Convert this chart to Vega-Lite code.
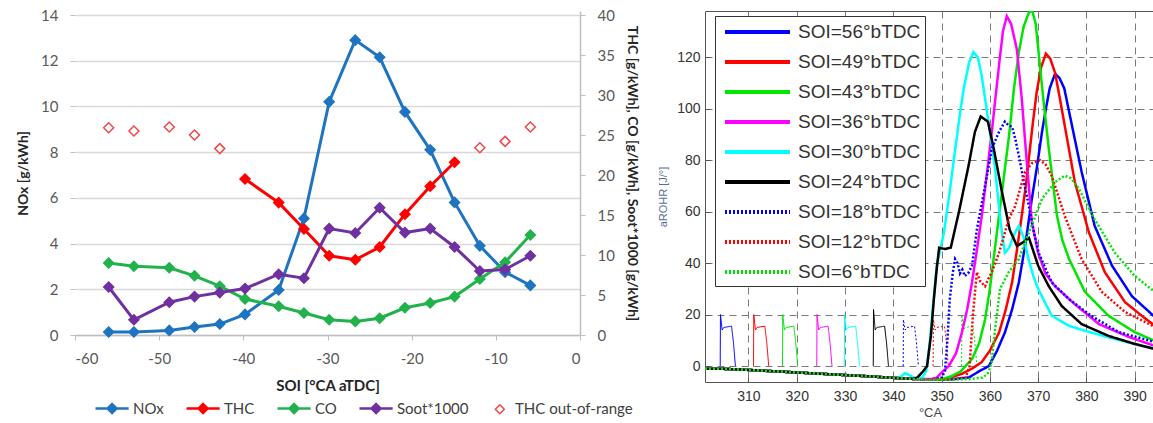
{
  "$schema": "https://vega.github.io/schema/vega-lite/v6.json",
  "padding": {"left": 16, "top": 8, "right": 0, "bottom": 0},
  "background": "white",
  "spacing": 125,
  "bounds": "flush",
  "config": {"view": {"stroke": "#555"}, "font": "Lato"},
  "resolve": {
    "scale": {"color": "independent", "stroke": "independent", "fill": "independent", "strokeDash": "independent"},
    "legend": {"color": "independent", "stroke": "independent", "fill": "independent", "strokeDash": "independent"}
  },
  "datasets": {
    "emis": [
      {"soi": -56, "series": "NOx", "value": 0.13}, {"soi": -53, "series": "NOx", "value": 0.13}, {"soi": -48.8, "series": "NOx", "value": 0.2}, {"soi": -45.8, "series": "NOx", "value": 0.35}, {"soi": -42.8, "series": "NOx", "value": 0.48}, {"soi": -39.8, "series": "NOx", "value": 0.9}, {"soi": -35.8, "series": "NOx", "value": 1.97}, {"soi": -32.8, "series": "NOx", "value": 5.1}, {"soi": -29.8, "series": "NOx", "value": 10.2}, {"soi": -26.7, "series": "NOx", "value": 12.9}, {"soi": -23.8, "series": "NOx", "value": 12.15}, {"soi": -20.8, "series": "NOx", "value": 9.76}, {"soi": -17.8, "series": "NOx", "value": 8.1}, {"soi": -14.9, "series": "NOx", "value": 5.8}, {"soi": -11.9, "series": "NOx", "value": 3.9}, {"soi": -8.9, "series": "NOx", "value": 2.75}, {"soi": -5.9, "series": "NOx", "value": 2.17},
      {"soi": -39.8, "series": "THC", "value": 19.5}, {"soi": -35.8, "series": "THC", "value": 16.55}, {"soi": -32.8, "series": "THC", "value": 13.25}, {"soi": -29.8, "series": "THC", "value": 9.9}, {"soi": -26.7, "series": "THC", "value": 9.4}, {"soi": -23.8, "series": "THC", "value": 11.0}, {"soi": -20.8, "series": "THC", "value": 15.1}, {"soi": -17.8, "series": "THC", "value": 18.6}, {"soi": -14.9, "series": "THC", "value": 21.6},
      {"soi": -56, "series": "CO", "value": 9.0}, {"soi": -53, "series": "CO", "value": 8.6}, {"soi": -48.8, "series": "CO", "value": 8.4}, {"soi": -45.8, "series": "CO", "value": 7.4}, {"soi": -42.8, "series": "CO", "value": 6.1}, {"soi": -39.8, "series": "CO", "value": 4.5}, {"soi": -35.8, "series": "CO", "value": 3.6}, {"soi": -32.8, "series": "CO", "value": 2.75}, {"soi": -29.8, "series": "CO", "value": 1.9}, {"soi": -26.7, "series": "CO", "value": 1.7}, {"soi": -23.8, "series": "CO", "value": 2.1}, {"soi": -20.8, "series": "CO", "value": 3.4}, {"soi": -17.8, "series": "CO", "value": 4.0}, {"soi": -14.9, "series": "CO", "value": 4.8}, {"soi": -11.9, "series": "CO", "value": 7.0}, {"soi": -8.9, "series": "CO", "value": 9.1}, {"soi": -5.9, "series": "CO", "value": 12.5},
      {"soi": -56, "series": "Soot*1000", "value": 6.0}, {"soi": -53, "series": "Soot*1000", "value": 1.9}, {"soi": -48.8, "series": "Soot*1000", "value": 4.1}, {"soi": -45.8, "series": "Soot*1000", "value": 4.8}, {"soi": -42.8, "series": "Soot*1000", "value": 5.3}, {"soi": -39.8, "series": "Soot*1000", "value": 5.8}, {"soi": -35.8, "series": "Soot*1000", "value": 7.6}, {"soi": -32.8, "series": "Soot*1000", "value": 7.1}, {"soi": -29.8, "series": "Soot*1000", "value": 13.3}, {"soi": -26.7, "series": "Soot*1000", "value": 12.75}, {"soi": -23.8, "series": "Soot*1000", "value": 15.9}, {"soi": -20.8, "series": "Soot*1000", "value": 12.8}, {"soi": -17.8, "series": "Soot*1000", "value": 13.3}, {"soi": -14.9, "series": "Soot*1000", "value": 11.0}, {"soi": -11.9, "series": "Soot*1000", "value": 8.0}, {"soi": -8.9, "series": "Soot*1000", "value": 8.2}, {"soi": -5.9, "series": "Soot*1000", "value": 9.9},
      {"soi": -56, "series": "THC out-of-range", "value": 25.9}, {"soi": -53, "series": "THC out-of-range", "value": 25.5}, {"soi": -48.8, "series": "THC out-of-range", "value": 26.0}, {"soi": -45.8, "series": "THC out-of-range", "value": 25.0}, {"soi": -42.8, "series": "THC out-of-range", "value": 23.3}, {"soi": -11.9, "series": "THC out-of-range", "value": 23.4}, {"soi": -8.9, "series": "THC out-of-range", "value": 24.2}, {"soi": -5.9, "series": "THC out-of-range", "value": 26.0}
    ],
    "rohr": [
      {"soi":56,"kind":"hr","ca":301,"v":-1.0},{"soi":56,"kind":"hr","ca":305,"v":-1.1},{"soi":56,"kind":"hr","ca":310,"v":-1.5},{"soi":56,"kind":"hr","ca":315,"v":-2.0},{"soi":56,"kind":"hr","ca":320,"v":-2.5},{"soi":56,"kind":"hr","ca":325,"v":-3.0},{"soi":56,"kind":"hr","ca":330,"v":-3.5},{"soi":56,"kind":"hr","ca":335,"v":-4.0},{"soi":56,"kind":"hr","ca":340,"v":-4.6},{"soi":56,"kind":"hr","ca":344,"v":-5.0},{"soi":56,"kind":"hr","ca":348,"v":-5.2},{"soi":56,"kind":"hr","ca":352,"v":-5.2},{"soi":56,"kind":"hr","ca":355.7,"v":-4.4},{"soi":56,"kind":"hr","ca":357.8,"v":-2},{"soi":56,"kind":"hr","ca":359.8,"v":0},{"soi":56,"kind":"hr","ca":361.5,"v":6},{"soi":56,"kind":"hr","ca":363.1,"v":13},{"soi":56,"kind":"hr","ca":364.6,"v":22},{"soi":56,"kind":"hr","ca":366,"v":32.5},{"soi":56,"kind":"hr","ca":367.4,"v":48},{"soi":56,"kind":"hr","ca":368.7,"v":65},{"soi":56,"kind":"hr","ca":369.8,"v":78},{"soi":56,"kind":"hr","ca":370.8,"v":91},{"soi":56,"kind":"hr","ca":371.6,"v":100},{"soi":56,"kind":"hr","ca":372.4,"v":108},{"soi":56,"kind":"hr","ca":373.5,"v":113.6},{"soi":56,"kind":"hr","ca":374.4,"v":112},{"soi":56,"kind":"hr","ca":375.4,"v":108},{"soi":56,"kind":"hr","ca":377,"v":93.5},{"soi":56,"kind":"hr","ca":379,"v":75.5},{"soi":56,"kind":"hr","ca":381.7,"v":54.5},{"soi":56,"kind":"hr","ca":385.3,"v":39},{"soi":56,"kind":"hr","ca":389.4,"v":27.2},{"soi":56,"kind":"hr","ca":394.2,"v":19},
      {"soi":49,"kind":"hr","ca":301,"v":-1.0},{"soi":49,"kind":"hr","ca":305,"v":-1.1},{"soi":49,"kind":"hr","ca":310,"v":-1.5},{"soi":49,"kind":"hr","ca":315,"v":-2.0},{"soi":49,"kind":"hr","ca":320,"v":-2.5},{"soi":49,"kind":"hr","ca":325,"v":-3.0},{"soi":49,"kind":"hr","ca":330,"v":-3.5},{"soi":49,"kind":"hr","ca":335,"v":-4.0},{"soi":49,"kind":"hr","ca":340,"v":-4.6},{"soi":49,"kind":"hr","ca":344,"v":-5.0},{"soi":49,"kind":"hr","ca":348,"v":-5.2},{"soi":49,"kind":"hr","ca":351,"v":-5},{"soi":49,"kind":"hr","ca":354.2,"v":-3},{"soi":49,"kind":"hr","ca":356.3,"v":-1},{"soi":49,"kind":"hr","ca":358.3,"v":1.5},{"soi":49,"kind":"hr","ca":360,"v":6},{"soi":49,"kind":"hr","ca":361.9,"v":13},{"soi":49,"kind":"hr","ca":363.3,"v":22},{"soi":49,"kind":"hr","ca":364.6,"v":32.5},{"soi":49,"kind":"hr","ca":365.6,"v":45},{"soi":49,"kind":"hr","ca":366.6,"v":58.4},{"soi":49,"kind":"hr","ca":367.5,"v":71},{"soi":49,"kind":"hr","ca":368.3,"v":84.5},{"soi":49,"kind":"hr","ca":369,"v":96},{"soi":49,"kind":"hr","ca":369.7,"v":106.5},{"soi":49,"kind":"hr","ca":370.6,"v":116},{"soi":49,"kind":"hr","ca":371.6,"v":121.4},{"soi":49,"kind":"hr","ca":372.5,"v":119.5},{"soi":49,"kind":"hr","ca":373.5,"v":114},{"soi":49,"kind":"hr","ca":374.5,"v":104},{"soi":49,"kind":"hr","ca":375.5,"v":93.5},{"soi":49,"kind":"hr","ca":377.6,"v":71.5},{"soi":49,"kind":"hr","ca":380.5,"v":52},{"soi":49,"kind":"hr","ca":383.8,"v":36.5},{"soi":49,"kind":"hr","ca":388,"v":24.8},{"soi":49,"kind":"hr","ca":391.5,"v":19.5},{"soi":49,"kind":"hr","ca":394.2,"v":15.6},
      {"soi":43,"kind":"hr","ca":301,"v":-1.0},{"soi":43,"kind":"hr","ca":305,"v":-1.1},{"soi":43,"kind":"hr","ca":310,"v":-1.5},{"soi":43,"kind":"hr","ca":315,"v":-2.0},{"soi":43,"kind":"hr","ca":320,"v":-2.5},{"soi":43,"kind":"hr","ca":325,"v":-3.0},{"soi":43,"kind":"hr","ca":330,"v":-3.5},{"soi":43,"kind":"hr","ca":335,"v":-4.0},{"soi":43,"kind":"hr","ca":340,"v":-4.6},{"soi":43,"kind":"hr","ca":344,"v":-5.0},{"soi":43,"kind":"hr","ca":348,"v":-5.2},{"soi":43,"kind":"hr","ca":350,"v":-5},{"soi":43,"kind":"hr","ca":352,"v":-4},{"soi":43,"kind":"hr","ca":354,"v":-2},{"soi":43,"kind":"hr","ca":356.3,"v":2.7},{"soi":43,"kind":"hr","ca":357.8,"v":9},{"soi":43,"kind":"hr","ca":359,"v":18},{"soi":43,"kind":"hr","ca":360,"v":30},{"soi":43,"kind":"hr","ca":361,"v":45},{"soi":43,"kind":"hr","ca":362,"v":60},{"soi":43,"kind":"hr","ca":363,"v":75},{"soi":43,"kind":"hr","ca":364,"v":90},{"soi":43,"kind":"hr","ca":365,"v":108},{"soi":43,"kind":"hr","ca":366,"v":122},{"soi":43,"kind":"hr","ca":367,"v":132},{"soi":43,"kind":"hr","ca":368,"v":137},{"soi":43,"kind":"hr","ca":368.7,"v":138.5},{"soi":43,"kind":"hr","ca":369.5,"v":133},{"soi":43,"kind":"hr","ca":370.3,"v":118},{"soi":43,"kind":"hr","ca":371,"v":105},{"soi":43,"kind":"hr","ca":372.2,"v":84.5},{"soi":43,"kind":"hr","ca":373.9,"v":58.4},{"soi":43,"kind":"hr","ca":375,"v":49},{"soi":43,"kind":"hr","ca":376.4,"v":41.6},{"soi":43,"kind":"hr","ca":379.7,"v":28.8},{"soi":43,"kind":"hr","ca":384.6,"v":19.5},{"soi":43,"kind":"hr","ca":390,"v":13.2},{"soi":43,"kind":"hr","ca":394.2,"v":9.7},
      {"soi":36,"kind":"hr","ca":301,"v":-1.0},{"soi":36,"kind":"hr","ca":305,"v":-1.1},{"soi":36,"kind":"hr","ca":310,"v":-1.5},{"soi":36,"kind":"hr","ca":315,"v":-2.0},{"soi":36,"kind":"hr","ca":320,"v":-2.5},{"soi":36,"kind":"hr","ca":325,"v":-3.0},{"soi":36,"kind":"hr","ca":330,"v":-3.5},{"soi":36,"kind":"hr","ca":335,"v":-4.0},{"soi":36,"kind":"hr","ca":340,"v":-4.6},{"soi":36,"kind":"hr","ca":344,"v":-5.0},{"soi":36,"kind":"hr","ca":348,"v":-5},{"soi":36,"kind":"hr","ca":349,"v":-4.5},{"soi":36,"kind":"hr","ca":350.3,"v":-2},{"soi":36,"kind":"hr","ca":351.5,"v":0},{"soi":36,"kind":"hr","ca":353,"v":5},{"soi":36,"kind":"hr","ca":354.2,"v":13},{"soi":36,"kind":"hr","ca":355.3,"v":22},{"soi":36,"kind":"hr","ca":356.3,"v":32.5},{"soi":36,"kind":"hr","ca":357.3,"v":45},{"soi":36,"kind":"hr","ca":358.3,"v":58},{"soi":36,"kind":"hr","ca":359.4,"v":75},{"soi":36,"kind":"hr","ca":360.4,"v":91},{"soi":36,"kind":"hr","ca":361.2,"v":105},{"soi":36,"kind":"hr","ca":361.9,"v":117},{"soi":36,"kind":"hr","ca":362.7,"v":130},{"soi":36,"kind":"hr","ca":363.5,"v":136},{"soi":36,"kind":"hr","ca":364.4,"v":133},{"soi":36,"kind":"hr","ca":365.6,"v":123},{"soi":36,"kind":"hr","ca":366.6,"v":104},{"soi":36,"kind":"hr","ca":367.7,"v":78},{"soi":36,"kind":"hr","ca":368.7,"v":56},{"soi":36,"kind":"hr","ca":370,"v":44},{"soi":36,"kind":"hr","ca":371.5,"v":36},{"soi":36,"kind":"hr","ca":373.5,"v":31},{"soi":36,"kind":"hr","ca":377.6,"v":24},{"soi":36,"kind":"hr","ca":382.6,"v":16.3},{"soi":36,"kind":"hr","ca":388.8,"v":11.3},{"soi":36,"kind":"hr","ca":394.2,"v":7.8},
      {"soi":30,"kind":"hr","ca":301,"v":-1.0},{"soi":30,"kind":"hr","ca":305,"v":-1.1},{"soi":30,"kind":"hr","ca":310,"v":-1.5},{"soi":30,"kind":"hr","ca":315,"v":-2.0},{"soi":30,"kind":"hr","ca":320,"v":-2.5},{"soi":30,"kind":"hr","ca":325,"v":-3.0},{"soi":30,"kind":"hr","ca":330,"v":-3.5},{"soi":30,"kind":"hr","ca":335,"v":-4.0},{"soi":30,"kind":"hr","ca":340,"v":-4.6},{"soi":30,"kind":"hr","ca":341.5,"v":-4.2},{"soi":30,"kind":"hr","ca":342.4,"v":-2.8},{"soi":30,"kind":"hr","ca":343.3,"v":-3.5},{"soi":30,"kind":"hr","ca":344.5,"v":-4.8},{"soi":30,"kind":"hr","ca":346,"v":-4.5},{"soi":30,"kind":"hr","ca":346.8,"v":-2},{"soi":30,"kind":"hr","ca":347.5,"v":8},{"soi":30,"kind":"hr","ca":348.3,"v":25},{"soi":30,"kind":"hr","ca":349,"v":39},{"soi":30,"kind":"hr","ca":350.5,"v":52},{"soi":30,"kind":"hr","ca":351.7,"v":68},{"soi":30,"kind":"hr","ca":352.8,"v":84},{"soi":30,"kind":"hr","ca":353.8,"v":98},{"soi":30,"kind":"hr","ca":354.6,"v":108},{"soi":30,"kind":"hr","ca":355.7,"v":118},{"soi":30,"kind":"hr","ca":356.6,"v":122},{"soi":30,"kind":"hr","ca":357.5,"v":120},{"soi":30,"kind":"hr","ca":358.3,"v":113},{"soi":30,"kind":"hr","ca":359,"v":104},{"soi":30,"kind":"hr","ca":360,"v":91},{"soi":30,"kind":"hr","ca":361,"v":78},{"soi":30,"kind":"hr","ca":362,"v":60},{"soi":30,"kind":"hr","ca":362.5,"v":52},{"soi":30,"kind":"hr","ca":363.1,"v":44},{"soi":30,"kind":"hr","ca":364,"v":46},{"soi":30,"kind":"hr","ca":365,"v":51},{"soi":30,"kind":"hr","ca":366,"v":54.5},{"soi":30,"kind":"hr","ca":367,"v":50},{"soi":30,"kind":"hr","ca":368,"v":41.6},{"soi":30,"kind":"hr","ca":369,"v":35},{"soi":30,"kind":"hr","ca":370,"v":30},{"soi":30,"kind":"hr","ca":372.8,"v":19.6},{"soi":30,"kind":"hr","ca":376.4,"v":15.6},{"soi":30,"kind":"hr","ca":381,"v":13},{"soi":30,"kind":"hr","ca":385.9,"v":10.5},{"soi":30,"kind":"hr","ca":391.5,"v":7.8},{"soi":30,"kind":"hr","ca":394.2,"v":7},
      {"soi":24,"kind":"hr","ca":301,"v":-1.0},{"soi":24,"kind":"hr","ca":305,"v":-1.1},{"soi":24,"kind":"hr","ca":310,"v":-1.5},{"soi":24,"kind":"hr","ca":315,"v":-2.0},{"soi":24,"kind":"hr","ca":320,"v":-2.5},{"soi":24,"kind":"hr","ca":325,"v":-3.0},{"soi":24,"kind":"hr","ca":330,"v":-3.5},{"soi":24,"kind":"hr","ca":335,"v":-4.0},{"soi":24,"kind":"hr","ca":340,"v":-4.6},{"soi":24,"kind":"hr","ca":344,"v":-5.0},{"soi":24,"kind":"hr","ca":345,"v":-4.4},{"soi":24,"kind":"hr","ca":346.2,"v":-2},{"soi":24,"kind":"hr","ca":347,"v":0},{"soi":24,"kind":"hr","ca":347.8,"v":12},{"soi":24,"kind":"hr","ca":348.4,"v":26},{"soi":24,"kind":"hr","ca":349,"v":38},{"soi":24,"kind":"hr","ca":349.5,"v":46},{"soi":24,"kind":"hr","ca":350.7,"v":45.5},{"soi":24,"kind":"hr","ca":351.9,"v":46},{"soi":24,"kind":"hr","ca":353.6,"v":60},{"soi":24,"kind":"hr","ca":355.6,"v":78},{"soi":24,"kind":"hr","ca":356.9,"v":91},{"soi":24,"kind":"hr","ca":358.1,"v":97},{"soi":24,"kind":"hr","ca":359.6,"v":95},{"soi":24,"kind":"hr","ca":360.8,"v":84.5},{"soi":24,"kind":"hr","ca":362.5,"v":67.7},{"soi":24,"kind":"hr","ca":364.1,"v":53},{"soi":24,"kind":"hr","ca":365.6,"v":46.7},{"soi":24,"kind":"hr","ca":366.8,"v":48},{"soi":24,"kind":"hr","ca":368.1,"v":49.8},{"soi":24,"kind":"hr","ca":370,"v":39},{"soi":24,"kind":"hr","ca":372.2,"v":31},{"soi":24,"kind":"hr","ca":374.9,"v":23.3},{"soi":24,"kind":"hr","ca":379,"v":16.3},{"soi":24,"kind":"hr","ca":384.6,"v":11.7},{"soi":24,"kind":"hr","ca":390,"v":8.6},{"soi":24,"kind":"hr","ca":394.2,"v":6.6},
      {"soi":18,"kind":"hr","ca":301,"v":-1.0},{"soi":18,"kind":"hr","ca":305,"v":-1.1},{"soi":18,"kind":"hr","ca":310,"v":-1.5},{"soi":18,"kind":"hr","ca":315,"v":-2.0},{"soi":18,"kind":"hr","ca":320,"v":-2.5},{"soi":18,"kind":"hr","ca":325,"v":-3.0},{"soi":18,"kind":"hr","ca":330,"v":-3.5},{"soi":18,"kind":"hr","ca":335,"v":-4.0},{"soi":18,"kind":"hr","ca":340,"v":-4.6},{"soi":18,"kind":"hr","ca":344,"v":-5.0},{"soi":18,"kind":"hr","ca":348,"v":-5.2},{"soi":18,"kind":"hr","ca":350,"v":-4.5},{"soi":18,"kind":"hr","ca":350.7,"v":-2},{"soi":18,"kind":"hr","ca":351.2,"v":10},{"soi":18,"kind":"hr","ca":351.7,"v":26},{"soi":18,"kind":"hr","ca":352.3,"v":36},{"soi":18,"kind":"hr","ca":352.8,"v":41.6},{"soi":18,"kind":"hr","ca":353.3,"v":40},{"soi":18,"kind":"hr","ca":353.8,"v":36},{"soi":18,"kind":"hr","ca":354.3,"v":37.5},{"soi":18,"kind":"hr","ca":354.8,"v":35},{"soi":18,"kind":"hr","ca":355.5,"v":36},{"soi":18,"kind":"hr","ca":356.3,"v":39},{"soi":18,"kind":"hr","ca":357.3,"v":53},{"soi":18,"kind":"hr","ca":358.2,"v":62},{"soi":18,"kind":"hr","ca":359,"v":70},{"soi":18,"kind":"hr","ca":360.4,"v":84.5},{"soi":18,"kind":"hr","ca":361.9,"v":91},{"soi":18,"kind":"hr","ca":363.1,"v":95},{"soi":18,"kind":"hr","ca":363.9,"v":93.5},{"soi":18,"kind":"hr","ca":364.6,"v":93},{"soi":18,"kind":"hr","ca":365.3,"v":88},{"soi":18,"kind":"hr","ca":366,"v":81.7},{"soi":18,"kind":"hr","ca":367,"v":72},{"soi":18,"kind":"hr","ca":368.1,"v":62},{"soi":18,"kind":"hr","ca":369,"v":53},{"soi":18,"kind":"hr","ca":370.1,"v":44},{"soi":18,"kind":"hr","ca":372.8,"v":32.5},{"soi":18,"kind":"hr","ca":376.4,"v":26},{"soi":18,"kind":"hr","ca":381,"v":19.5},{"soi":18,"kind":"hr","ca":386.7,"v":13.2},{"soi":18,"kind":"hr","ca":394.2,"v":9.3},
      {"soi":12,"kind":"hr","ca":301,"v":-1.0},{"soi":12,"kind":"hr","ca":305,"v":-1.1},{"soi":12,"kind":"hr","ca":310,"v":-1.5},{"soi":12,"kind":"hr","ca":315,"v":-2.0},{"soi":12,"kind":"hr","ca":320,"v":-2.5},{"soi":12,"kind":"hr","ca":325,"v":-3.0},{"soi":12,"kind":"hr","ca":330,"v":-3.5},{"soi":12,"kind":"hr","ca":335,"v":-4.0},{"soi":12,"kind":"hr","ca":340,"v":-4.6},{"soi":12,"kind":"hr","ca":344,"v":-5.0},{"soi":12,"kind":"hr","ca":348,"v":-5.2},{"soi":12,"kind":"hr","ca":352,"v":-5.2},{"soi":12,"kind":"hr","ca":355,"v":-4.5},{"soi":12,"kind":"hr","ca":355.8,"v":0},{"soi":12,"kind":"hr","ca":356.5,"v":20},{"soi":12,"kind":"hr","ca":357.3,"v":36.5},{"soi":12,"kind":"hr","ca":358,"v":33},{"soi":12,"kind":"hr","ca":359,"v":31},{"soi":12,"kind":"hr","ca":359.7,"v":34},{"soi":12,"kind":"hr","ca":360.4,"v":36.5},{"soi":12,"kind":"hr","ca":361.9,"v":44},{"soi":12,"kind":"hr","ca":363.9,"v":57},{"soi":12,"kind":"hr","ca":365.2,"v":62},{"soi":12,"kind":"hr","ca":367.3,"v":75.5},{"soi":12,"kind":"hr","ca":368.8,"v":79},{"soi":12,"kind":"hr","ca":370.4,"v":80},{"soi":12,"kind":"hr","ca":371.5,"v":78.5},{"soi":12,"kind":"hr","ca":372.8,"v":74},{"soi":12,"kind":"hr","ca":375.5,"v":58.4},{"soi":12,"kind":"hr","ca":379,"v":41.6},{"soi":12,"kind":"hr","ca":383.2,"v":28.8},{"soi":12,"kind":"hr","ca":388,"v":21},{"soi":12,"kind":"hr","ca":394.2,"v":15.2},
      {"soi":6,"kind":"hr","ca":301,"v":-1.0},{"soi":6,"kind":"hr","ca":305,"v":-1.1},{"soi":6,"kind":"hr","ca":310,"v":-1.5},{"soi":6,"kind":"hr","ca":315,"v":-2.0},{"soi":6,"kind":"hr","ca":320,"v":-2.5},{"soi":6,"kind":"hr","ca":325,"v":-3.0},{"soi":6,"kind":"hr","ca":330,"v":-3.5},{"soi":6,"kind":"hr","ca":335,"v":-4.0},{"soi":6,"kind":"hr","ca":340,"v":-4.6},{"soi":6,"kind":"hr","ca":344,"v":-5.0},{"soi":6,"kind":"hr","ca":348,"v":-5.3},{"soi":6,"kind":"hr","ca":352,"v":-5.3},{"soi":6,"kind":"hr","ca":356,"v":-5},{"soi":6,"kind":"hr","ca":358.5,"v":-4.5},{"soi":6,"kind":"hr","ca":359.5,"v":-3},{"soi":6,"kind":"hr","ca":360,"v":-1},{"soi":6,"kind":"hr","ca":360.4,"v":2},{"soi":6,"kind":"hr","ca":361,"v":13},{"soi":6,"kind":"hr","ca":362.1,"v":30},{"soi":6,"kind":"hr","ca":363.9,"v":36.5},{"soi":6,"kind":"hr","ca":366,"v":41.6},{"soi":6,"kind":"hr","ca":368.1,"v":52},{"soi":6,"kind":"hr","ca":370.8,"v":65},{"soi":6,"kind":"hr","ca":373.5,"v":71.5},{"soi":6,"kind":"hr","ca":375.5,"v":74},{"soi":6,"kind":"hr","ca":376.8,"v":73},{"soi":6,"kind":"hr","ca":378.4,"v":69},{"soi":6,"kind":"hr","ca":381.7,"v":57},{"soi":6,"kind":"hr","ca":385.9,"v":44},{"soi":6,"kind":"hr","ca":390,"v":35},{"soi":6,"kind":"hr","ca":394.2,"v":28.8},
      {"soi":56,"kind":"inj","ca":304.15,"v":0},{"soi":56,"kind":"inj","ca":304.2,"v":20},{"soi":56,"kind":"inj","ca":304.55,"v":14},{"soi":56,"kind":"inj","ca":304.9,"v":15},{"soi":56,"kind":"inj","ca":306.5,"v":15.5},{"soi":56,"kind":"inj","ca":306.9,"v":9},{"soi":56,"kind":"inj","ca":307.3,"v":0},
      {"soi":49,"kind":"inj","ca":311.05,"v":0},{"soi":49,"kind":"inj","ca":311.1,"v":20},{"soi":49,"kind":"inj","ca":311.45,"v":14},{"soi":49,"kind":"inj","ca":311.8,"v":15},{"soi":49,"kind":"inj","ca":313.4,"v":15.5},{"soi":49,"kind":"inj","ca":313.8,"v":9},{"soi":49,"kind":"inj","ca":314.2,"v":0},
      {"soi":43,"kind":"inj","ca":317.05,"v":0},{"soi":43,"kind":"inj","ca":317.1,"v":20},{"soi":43,"kind":"inj","ca":317.45,"v":14},{"soi":43,"kind":"inj","ca":317.8,"v":15},{"soi":43,"kind":"inj","ca":319.4,"v":15.5},{"soi":43,"kind":"inj","ca":319.8,"v":9},{"soi":43,"kind":"inj","ca":320.2,"v":0},
      {"soi":36,"kind":"inj","ca":324.15,"v":0},{"soi":36,"kind":"inj","ca":324.2,"v":20},{"soi":36,"kind":"inj","ca":324.55,"v":14},{"soi":36,"kind":"inj","ca":324.9,"v":15},{"soi":36,"kind":"inj","ca":326.5,"v":15.5},{"soi":36,"kind":"inj","ca":326.9,"v":9},{"soi":36,"kind":"inj","ca":327.3,"v":0},
      {"soi":30,"kind":"inj","ca":329.85,"v":0},{"soi":30,"kind":"inj","ca":329.9,"v":20},{"soi":30,"kind":"inj","ca":330.25,"v":14},{"soi":30,"kind":"inj","ca":330.6,"v":15},{"soi":30,"kind":"inj","ca":332.2,"v":15.5},{"soi":30,"kind":"inj","ca":332.6,"v":9},{"soi":30,"kind":"inj","ca":333,"v":0},
      {"soi":24,"kind":"inj","ca":335.85,"v":0},{"soi":24,"kind":"inj","ca":335.9,"v":22},{"soi":24,"kind":"inj","ca":336.25,"v":14},{"soi":24,"kind":"inj","ca":336.6,"v":15},{"soi":24,"kind":"inj","ca":338.2,"v":15.5},{"soi":24,"kind":"inj","ca":338.6,"v":9},{"soi":24,"kind":"inj","ca":339,"v":0},
      {"soi":18,"kind":"inj","ca":342.05,"v":0},{"soi":18,"kind":"inj","ca":342.1,"v":18},{"soi":18,"kind":"inj","ca":342.45,"v":14},{"soi":18,"kind":"inj","ca":342.8,"v":15},{"soi":18,"kind":"inj","ca":344.4,"v":15.5},{"soi":18,"kind":"inj","ca":344.8,"v":9},{"soi":18,"kind":"inj","ca":345.2,"v":0},
      {"soi":12,"kind":"inj","ca":348.25,"v":0},{"soi":12,"kind":"inj","ca":348.3,"v":18},{"soi":12,"kind":"inj","ca":348.65,"v":14},{"soi":12,"kind":"inj","ca":349,"v":15},{"soi":12,"kind":"inj","ca":350.6,"v":15.5},{"soi":12,"kind":"inj","ca":351,"v":9},{"soi":12,"kind":"inj","ca":351.4,"v":0},
      {"soi":6,"kind":"inj","ca":354.15,"v":0},{"soi":6,"kind":"inj","ca":354.2,"v":20},{"soi":6,"kind":"inj","ca":354.55,"v":14},{"soi":6,"kind":"inj","ca":354.9,"v":15},{"soi":6,"kind":"inj","ca":356.5,"v":15.5},{"soi":6,"kind":"inj","ca":356.9,"v":9},{"soi":6,"kind":"inj","ca":357.3,"v":0}
    ]
  },
  "hconcat": [
    {
      "width": 505,
      "height": 324,
      "view": {"stroke": null},
      "data": {"name": "emis"},
      "layer": [
        {
          "transform": [{"filter": "datum.series === 'NOx'"}],
          "encoding": {
            "x": {"field": "soi", "type": "quantitative", "scale": {"domain": [-60, 0], "nice": false},
              "axis": {"values": [-60, -50, -40, -30, -20, -10, 0], "labelExpr": "toString(datum.value)", "title": "SOI [°CA aTDC]", "grid": false, "domainColor": "#bfbfbf", "domainWidth": 1.5, "tickColor": "#bfbfbf", "tickSize": 5, "labelFont": "Lato", "labelFontSize": 15, "labelColor": "#595959", "labelPadding": 11, "titleFont": "Lato", "titleFontSize": 15, "titleFontWeight": "bold", "titleColor": "#262626", "titlePadding": 12}},
            "y": {"field": "value", "type": "quantitative", "scale": {"domain": [0, 14.175], "nice": false},
              "axis": {"orient": "left", "values": [0, 2, 4, 6, 8, 10, 12, 14], "title": "NOx [g/kWh]", "grid": true, "gridColor": "#d9d9d9", "gridWidth": 1.5, "domain": false, "tickColor": "#bfbfbf", "tickSize": 5, "labelFont": "Lato", "labelFontSize": 15, "labelColor": "#595959", "labelPadding": 12, "titleFont": "Lato", "titleFontSize": 14, "titleFontWeight": "bold", "titleColor": "#262626", "titlePadding": 10}}
          },
          "layer": [
            {"mark": {"type": "line", "strokeWidth": 3},
             "encoding": {"stroke": {"field": "series", "type": "nominal",
               "scale": {"domain": ["NOx", "THC", "CO", "Soot*1000", "THC out-of-range"], "range": ["#1f74c0", "#ff0000", "#22b24c", "#7030a0", "#f04848"]},
               "legend": {"orient": "bottom", "direction": "horizontal", "title": null, "labelFont": "Lato", "labelFontSize": 15, "labelColor": "#404040", "symbolType": "M0,0L2,0M1,-0.27L1.27,0L1,0.27L0.73,0Z", "symbolSize": 1100, "symbolStrokeWidth": 2.5, "symbolOpacity": 1, "columnPadding": 15, "padding": 13, "offset": -5, "labelOffset": 30,
                 "encode": {
                   "symbols": {"update": {"shape": {"signal": "datum.value === 'THC out-of-range' ? 'M0.5,-0.27L0.77,0L0.5,0.27L0.23,0Z' : 'M0,0L2,0M1,-0.27L1.27,0L1,0.27L0.73,0Z'"}, "strokeWidth": {"signal": "datum.value === 'THC out-of-range' ? 1.5 : 2.5"}}},
                   "labels": {"update": {"dx": {"signal": "datum.value === 'THC out-of-range' ? -14 : 0"}}}
                 }}}}},
            {"mark": {"type": "point", "shape": "diamond", "size": 100, "opacity": 1, "strokeWidth": 1.5},
             "encoding": {
               "stroke": {"field": "series", "type": "nominal"},
               "fill": {"field": "series", "type": "nominal", "scale": {"domain": ["NOx", "THC", "CO", "Soot*1000", "THC out-of-range"], "range": ["#1f74c0", "#ff0000", "#22b24c", "#7030a0", "#ffffff"]}}
             }}
          ]
        },
        {
          "transform": [{"filter": "datum.series !== 'NOx'"}],
          "encoding": {
            "x": {"field": "soi", "type": "quantitative", "scale": {"domain": [-60, 0], "nice": false}},
            "y": {"field": "value", "type": "quantitative", "scale": {"domain": [0, 40.5], "nice": false},
              "axis": {"orient": "right", "values": [0, 5, 10, 15, 20, 25, 30, 35, 40], "title": "THC [g/kWh], CO [g/kWh], Soot*1000 [g/kWh]", "grid": false, "domainColor": "#bfbfbf", "domainWidth": 1.5, "tickColor": "#bfbfbf", "tickSize": 5, "labelFont": "Lato", "labelFontSize": 15, "labelColor": "#595959", "labelPadding": 12, "titleFont": "Lato", "titleFontSize": 14, "titleFontWeight": "bold", "titleColor": "#262626", "titlePadding": 10}}
          },
          "layer": [
            {"transform": [{"filter": "datum.series !== 'THC out-of-range'"}],
             "mark": {"type": "line", "strokeWidth": 3},
             "encoding": {"stroke": {"field": "series", "type": "nominal"}}},
            {"mark": {"type": "point", "shape": "diamond", "size": 100, "opacity": 1, "strokeWidth": 1.5},
             "encoding": {
               "stroke": {"field": "series", "type": "nominal"},
               "fill": {"field": "series", "type": "nominal"}
             }}
          ]
        }
      ],
      "resolve": {"scale": {"y": "independent"}}
    },
    {
      "width": 450,
      "height": 371,
      "view": {"stroke": "#555", "strokeWidth": 1},
      "data": {"name": "rohr"},
      "encoding": {
        "x": {"field": "ca", "type": "quantitative", "scale": {"domain": [301, 394.2], "nice": false, "zero": false},
          "axis": {"values": [310, 320, 330, 340, 350, 360, 370, 380, 390], "title": "°CA", "grid": true, "gridColor": "#7a7a7a", "gridDash": [7, 5], "gridWidth": 1, "domain": false, "tickColor": "#555", "tickSize": -5, "labelFont": "Liberation Sans", "labelFontSize": 14, "labelColor": "#333", "labelPadding": 12, "titleFont": "Liberation Sans", "titleFontSize": 13, "titleFontWeight": "normal", "titleColor": "#444", "titlePadding": 3}},
        "y": {"field": "v", "type": "quantitative", "scale": {"domain": [-6.2, 138], "nice": false, "zero": false},
          "axis": {"values": [0, 20, 40, 60, 80, 100, 120], "title": "aROHR [J/°]", "grid": true, "gridColor": "#7a7a7a", "gridDash": [7, 5], "gridWidth": 1, "domain": false, "tickColor": "#555", "tickSize": -5, "labelFont": "Liberation Sans", "labelFontSize": 14, "labelColor": "#333", "labelPadding": 10, "titleFont": "Liberation Sans", "titleFontSize": 11, "titleFontWeight": "normal", "titleColor": "#5a6e9a", "titlePadding": 8}},
        "color": {"field": "soi", "type": "nominal",
          "scale": {"domain": [56, 49, 43, 36, 30, 24, 18, 12, 6], "range": ["#0000ff", "#ff0000", "#00e600", "#ff00ff", "#00ffff", "#000000", "#0000ff", "#ff0000", "#00e600"]},
          "legend": {"orient": "none", "legendX": 10, "legendY": 5, "title": null, "fillColor": "white", "strokeColor": "#333", "padding": 4, "symbolType": "M-0.6,0L5.9,0", "symbolSize": 400, "symbolStrokeWidth": 4, "labelFont": "Liberation Sans", "labelFontSize": 19, "labelColor": "#333", "rowPadding": 8, "labelOffset": 55, "labelLimit": 300, "labelExpr": "'SOI=' + datum.label + '°bTDC'"}},
        "strokeDash": {"field": "soi", "type": "nominal",
          "scale": {"domain": [56, 49, 43, 36, 30, 24, 18, 12, 6], "range": [[1, 0], [1, 0], [1, 0], [1, 0], [1, 0], [1, 0], [2, 2], [2, 2], [2, 2]]}}
      },
      "layer": [
        {"transform": [{"filter": "datum.kind === 'inj'"}], "mark": {"type": "line", "strokeWidth": 1, "clip": true}},
        {"transform": [{"filter": "datum.kind === 'hr'"}], "mark": {"type": "line", "strokeWidth": 2.5, "clip": true}}
      ]
    }
  ]
}
